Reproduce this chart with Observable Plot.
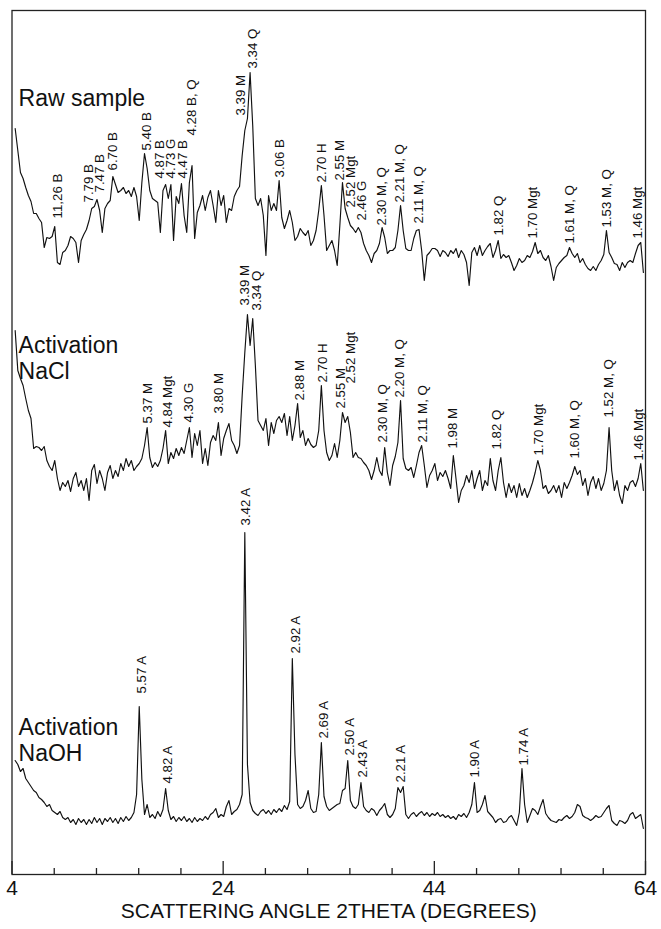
<!DOCTYPE html>
<html><head><meta charset="utf-8">
<script src="https://cdn.jsdelivr.net/npm/d3@7"></script>
<script src="https://cdn.jsdelivr.net/npm/@observablehq/plot@0.6"></script>
<style>body{margin:0;background:#fff} #chart svg{display:block}</style>
</head><body><div id="chart"></div>
<script>
// 2θ sampling grid of the diffractograms (degrees)
const thetaStart = 4.3, thetaStep = 0.25;

// Intensities (arbitrary units, traces stacked as in the figure)
const rawSample = [
746,724,702,696,687,679,673,661,661,656,
652,627,637,636,638,648,612,610,622,624,
629,638,636,632,612,634,640,645,654,666,
668,675,664,642,666,671,674,698,690,682,
684,687,681,684,678,687,678,654,692,721,
706,684,676,674,672,642,684,690,676,690,
634,678,671,691,659,642,692,709,636,662,
669,679,664,677,684,669,652,684,669,679,
652,666,664,678,684,688,719,744,756,802,
749,676,669,676,659,619,679,664,671,664,
694,657,646,654,664,652,634,638,646,642,
639,644,629,634,644,664,689,659,624,629,
634,624,609,649,692,666,657,649,646,642,
647,642,631,624,619,612,621,624,631,647,
637,621,624,624,627,644,669,644,626,624,
624,636,644,645,624,594,619,622,626,626,
624,618,624,622,618,624,621,626,617,624,
620,612,589,622,627,619,629,619,624,628,
631,617,624,634,616,620,617,619,612,604,
609,616,612,614,619,617,623,632,621,624,
617,614,619,608,594,607,611,614,617,619,
627,621,617,621,612,616,610,606,604,608,
604,610,614,620,644,622,617,611,610,604,
612,607,612,614,612,621,629,632,602];

const activationNaCl = [
544,504,496,489,476,464,456,426,428,427,
424,428,414,408,404,414,396,384,392,388,
394,383,396,402,388,394,384,396,374,404,
410,391,404,396,384,402,409,396,404,398,
411,404,416,408,414,404,408,411,416,429,
447,417,407,412,408,414,426,444,411,422,
416,426,419,427,421,434,447,417,441,429,
444,411,426,409,432,439,434,452,419,436,
444,451,434,429,421,429,479,522,560,529,
556,509,454,449,444,456,429,452,441,454,
458,452,461,439,458,434,449,471,437,444,
429,436,430,427,429,444,489,444,422,414,
419,431,417,434,462,452,458,442,417,422,
417,416,412,409,404,395,404,417,404,399,
427,402,389,409,418,432,474,416,406,404,
407,397,409,422,429,409,387,399,404,411,
394,402,398,404,396,386,419,396,372,384,
389,399,392,404,386,396,404,384,394,389,
416,394,384,404,417,392,377,391,382,389,
377,391,379,386,377,384,392,402,414,404,
386,389,381,384,389,382,389,377,392,386,
392,399,408,400,404,389,396,379,392,398,
386,396,384,391,404,447,404,384,394,379,
371,389,384,392,394,388,396,411,384];

const activationNaOH = [
114,110,103,106,96,92,88,84,82,77,
75,72,68,70,64,62,60,63,57,55,
57,52,55,50,56,52,55,50,55,51,
57,52,56,50,56,53,57,52,56,51,
57,53,58,54,57,62,80,168,95,60,
70,57,60,56,63,58,65,86,64,55,
58,53,57,54,58,53,56,52,57,53,
56,54,58,55,60,62,66,57,60,58,
68,74,60,63,65,70,80,342,110,72,
64,61,59,63,65,61,64,60,65,62,
66,63,69,65,73,216,120,70,66,68,
74,84,66,62,63,80,132,78,68,64,
66,68,70,71,84,86,114,74,68,66,
70,92,68,64,62,66,64,59,64,67,
71,60,57,60,66,87,82,88,60,56,
60,62,58,61,63,59,62,58,61,59,
62,58,60,57,59,56,58,55,60,58,
61,57,62,70,92,62,64,70,79,63,
60,57,52,55,56,52,53,57,59,54,
49,62,106,70,52,59,66,64,60,68,
75,61,57,54,53,52,55,54,57,59,
56,58,62,70,68,59,57,56,54,56,
59,57,58,62,66,69,54,51,49,54,
53,51,54,60,62,56,58,60,46];

// Peak annotations: [2θ, intensity where the label starts, text]
const rawLabels = [
[8.31,656,"11,26 B"],[11.25,672,"7.79 B"],[12.29,682,"7.47 B"],[13.52,704,"6.70 B"],
[16.74,724,"5.40 B"],[17.97,696,"4.87 B"],[19.01,696,"4.73 G"],[20.15,696,"4.47 B"],
[21.00,739,"4.28 B, Q"],[25.64,759,"3.39 M"],[26.78,806,"3.34 Q"],[29.34,697,"3.06 B"],
[33.31,692,"2.70 H"],[35.02,694,"2.55 M"],[36.06,667,"2.52 Mgt"],[37.10,654,"2.46 G"],
[38.99,649,"2.30 M, Q"],[40.70,672,"2.21 M, Q"],[42.50,651,"2.11 M, Q"],[50.08,639,"1.82 Q"],
[53.30,636,"1.70 Mgt"],[56.80,631,"1.61 M, Q"],[60.31,647,"1.53 M, Q"],[63.25,636,"1.46 Mgt"]];
const naclLabels = [
[16.84,451,"5.37 M"],[18.73,447,"4.84 Mgt"],[20.72,452,"4.30 G"],[23.56,461,"3.80 M"],
[26.02,569,"3.39 M"],[27.16,564,"3.34 Q"],[31.23,474,"2.88 M"],[33.41,492,"2.70 H"],
[35.11,466,"2.55 M"],[36.06,491,"2.52 Mgt"],[39.09,432,"2.30 M, Q"],[40.70,477,"2.20 M, Q"],
[42.88,432,"2.11 M, Q"],[45.72,426,"1.98 M"],[49.89,425,"1.82 Q"],[53.87,419,"1.70 Mgt"],
[57.28,416,"1.60 M, Q"],[60.50,457,"1.52 M, Q"],[63.37,414,"1.46 Mgt"]];
const naohLabels = [
[16.27,181,"5.57 A"],[18.73,91,"4.82 A"],[26.12,349,"3.42 A"],[30.85,221,"2.92 A"],
[33.50,136,"2.69 A"],[35.97,119,"2.50 A"],[37.20,97,"2.43 A"],[40.80,92,"2.21 A"],
[47.80,97,"1.90 A"],[52.45,109,"1.74 A"]];

const sampleNames = [
  {theta: 4.62, value: 769, text: "Raw sample"},
  {theta: 4.62, value: 496, text: "Activation\nNaCl"},
  {theta: 4.62, value: 114, text: "Activation\nNaOH"}];

const majorTicks = [4, 24, 44, 64];
const minorTicks = [8, 12, 16, 20, 28, 32, 36, 40, 48, 52, 56, 60];
const axisTitle = "SCATTERING ANGLE 2THETA (DEGREES)";

const series = [["Raw sample", rawSample], ["Activation NaCl", activationNaCl], ["Activation NaOH", activationNaOH]];
const rows = series.flatMap(([name, values]) => values.map((v, i) => ({name, theta: thetaStart + i * thetaStep, intensity: v})));
const labels = [...rawLabels, ...naclLabels, ...naohLabels].map(([theta, value, text]) => ({theta, value, text}));

const font = "'Liberation Sans', Arial, Helvetica, sans-serif";
const H = 929, mT = 10, mB = 55, innerH = H - mT - mB;

const chart = Plot.plot({
  width: 661, height: H,
  marginLeft: 11.5, marginRight: 16, marginTop: mT, marginBottom: mB,
  style: {fontFamily: font, background: "#fff", color: "#111", overflow: "visible"},
  x: {domain: [4, 64]},
  y: {domain: [0, innerH], axis: null},
  marks: [
    Plot.line(rows, {x: "theta", y: "intensity", z: "name", stroke: "#111", strokeWidth: 1.15}),
    Plot.text(labels, {x: "theta", y: "value", text: "text", rotate: -90, textAnchor: "start", fontSize: 13.3, fill: "#111"}),
    Plot.text(sampleNames, {x: "theta", y: "value", text: "text", textAnchor: "start", lineAnchor: "bottom", fontSize: 23, lineHeight: 1.09, fill: "#111"}),
    Plot.ruleX(majorTicks, {x: d => d, insetTop: innerH - 13, stroke: "#222", strokeWidth: 1.3}),
    Plot.ruleX(minorTicks, {x: d => d, insetTop: innerH - 6, stroke: "#222", strokeWidth: 1.3}),
    Plot.axisX(majorTicks, {tickSize: 0, tickPadding: 6, fontSize: 21, label: null}),
    Plot.text([axisTitle], {text: d => d, frameAnchor: "bottom", dy: 43, lineAnchor: "bottom", fontSize: 21, fill: "#111"}),
    Plot.frame({stroke: "#222", strokeWidth: 1.3})
  ]
});
document.getElementById("chart").append(chart);
</script>
</body></html>
